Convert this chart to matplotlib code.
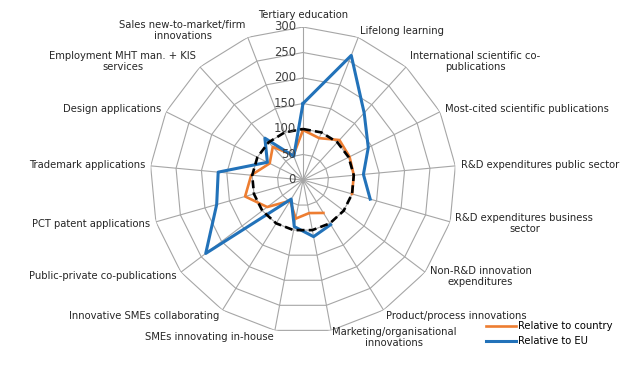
import numpy as np
import matplotlib
matplotlib.use("Agg")
import matplotlib.pyplot as plt

# Indicator names, clockwise from the top.
categories = [
    "Tertiary education",
    "Lifelong learning",
    "International scientific co-\npublications",
    "Most-cited scientific publications",
    "R&D expenditures public sector",
    "R&D expenditures business\nsector",
    "Non-R&D innovation\nexpenditures",
    "Product/process innovations",
    "Marketing/organisational\ninnovations",
    "SMEs innovating in-house",
    "Innovative SMEs collaborating",
    "Public-private co-publications",
    "PCT patent applications",
    "Trademark applications",
    "Design applications",
    "Employment MHT man. + KIS\nservices",
    "Sales new-to-market/firm\ninnovations",
]
relative_to_country = [98, 88, 106, 102, 100, 100, np.nan, 76, 66, 77, 48, 88, 118, 102, 73, 88, 52]
relative_to_eu = [150, 262, 178, 143, 119, 137, np.nan, 103, 113, 93, 44, 239, 176, 167, 78, 111, 50]
reference = [100] * 17
ring_values = [0, 50, 100, 150, 200, 250, 300]

plt.rcParams["font.family"] = "DejaVu Sans"
fig = plt.figure(figsize=(6.3, 3.76), dpi=100)
ax = fig.add_axes([0.2381, 0.1144, 0.4857, 0.8138], projection="polar")
ax.set_theta_zero_location("N")
ax.set_theta_direction(-1)
ax.set_ylim(0, 300)
ax.set_axis_off()

n = len(categories)
angles = np.linspace(0, 2 * np.pi, n, endpoint=False)
closed = np.append(angles, angles[0])

# Polygon grid like an Excel radar chart.
grid_color = "#a6a6a6"
for v in ring_values[1:]:
    ax.plot(closed, [v] * (n + 1), color=grid_color, lw=0.8, zorder=1)
for a in angles:
    ax.plot([a, a], [0, ring_values[-1]], color=grid_color, lw=0.8, zorder=1)

for v in ring_values:
    ax.annotate(str(v), xy=(0, v), xytext=(-5, 0), textcoords="offset points",
                ha="right", va="center", fontsize=8.4, color="#404040", zorder=5)

def close(vals):
    return np.append(vals, vals[0])

ax.plot(closed, close(relative_to_country), color="#ED7D31", lw=1.9,
        label="Relative to country", zorder=3)
ax.plot(closed, close(relative_to_eu), color="#2272B9", lw=2.2,
        label="Relative to EU", zorder=3)
ax.plot(closed, close(reference), color="black", lw=1.9, ls=(0, (3, 1.6)), zorder=4)

for a, label in zip(angles, categories):
    s, c = np.sin(a), np.cos(a)
    if s > 0.05:
        ha = "left"
    elif s < -0.05:
        ha = "right"
    else:
        ha = "center"
    va = "bottom" if c > 0.99 else "center"
    ax.annotate(label, xy=(a, ring_values[-1]), xytext=(4 * s, 5 * c),
                textcoords="offset points", ha=ha, va=va, multialignment="center",
                fontsize=7.2, color="#262626", linespacing=1.15,
                annotation_clip=False)

fig.legend(loc="upper left", bbox_to_anchor=(0.772, 0.145), frameon=False,
           fontsize=7.2, handlelength=3.0, handletextpad=0.15, labelspacing=0.5,
           borderpad=0, borderaxespad=0)

fig.savefig("out.png", dpi=100)
